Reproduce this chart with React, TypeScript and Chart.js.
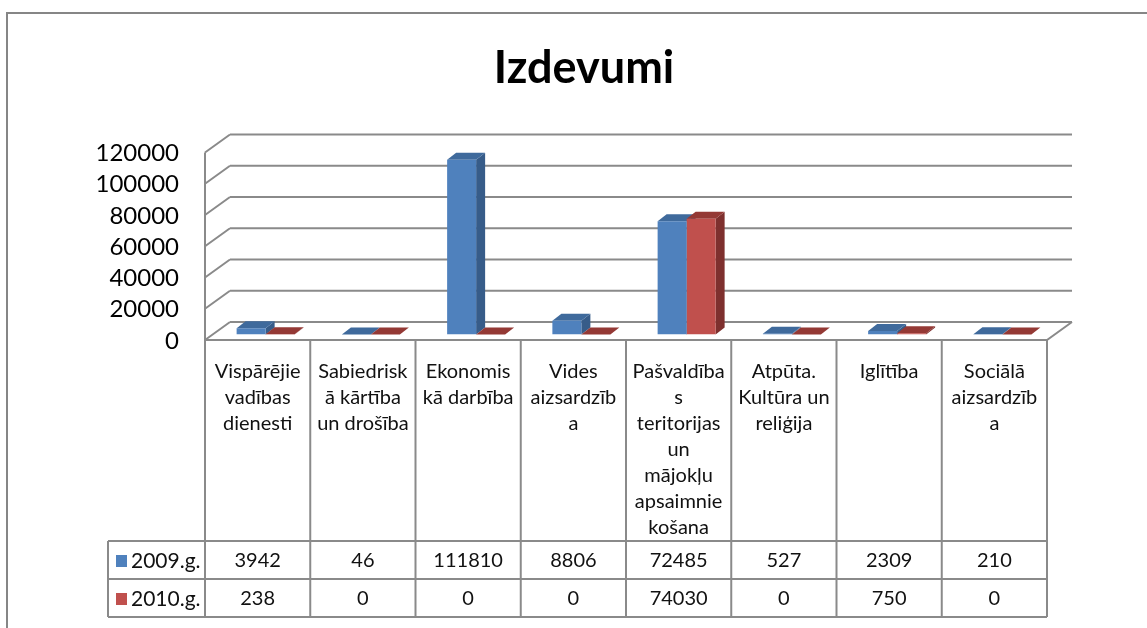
import React, { useEffect, useRef } from "react";
import { Chart, registerables } from "chart.js";

Chart.register(...registerables);

const chartTitle = "Izdevumi";
const categoryLines: string[][] = [
  ["Vispārējie", "vadības", "dienesti"],
  ["Sabiedrisk", "ā kārtība", "un drošība"],
  ["Ekonomis", "kā darbība"],
  ["Vides", "aizsardzīb", "a"],
  ["Pašvaldība", "s", "teritorijas", "un", "mājokļu", "apsaimnie", "košana"],
  ["Atpūta.", "Kultūra un", "reliģija"],
  ["Iglītība"],
  ["Sociālā", "aizsardzīb", "a"],
];
const seriesNames = ["2009.g.", "2010.g."];
const values2009 = [3942, 46, 111810, 8806, 72485, 527, 2309, 210];
const values2010 = [238, 0, 0, 0, 74030, 0, 750, 0];
const yTicks = [0, 20000, 40000, 60000, 80000, 100000, 120000];

const frontColors = ["#4F81BD", "#C0504D"];
const sideColors = ["#375C89", "#7E302E"];
const topColors = ["#3F6A9C", "#943935"];
const lineColor = "#8a8a8a";
const FONT = "Lato, 'Open Sans', sans-serif";

// projection offsets relative to the bar plane
const FRONT_DX = -8, FRONT_DY = 5.5;
const BACK_DX = 17, BACK_DY = -12.5;
const BAR_DX = 9, BAR_DY = -7;

const threeD = {
  id: "threeD",
  beforeDatasetsDraw(chart: any) {
    const ctx = chart.ctx;
    const ys = chart.scales.y;
    const area = chart.chartArea;
    const fl = area.left + FRONT_DX, fr = area.right + FRONT_DX;
    const bl = area.left + BACK_DX, br = area.right + BACK_DX;
    ctx.save();
    ctx.strokeStyle = lineColor;
    ctx.lineWidth = 2;
    ctx.lineCap = "butt";
    yTicks.forEach((v) => {
      const p = ys.getPixelForValue(v);
      const yb = p + BACK_DY, yf = p + FRONT_DY;
      ctx.beginPath();
      ctx.moveTo(bl, yb);
      ctx.lineTo(br, yb);
      ctx.moveTo(fl, yf);
      ctx.lineTo(bl, yb);
      ctx.stroke();
    });
    const p0 = ys.getPixelForValue(0);
    const pT = ys.getPixelForValue(yTicks[yTicks.length - 1]);
    ctx.beginPath();
    ctx.moveTo(fl, p0 + FRONT_DY);
    ctx.lineTo(fl, pT + FRONT_DY);
    ctx.moveTo(fl, p0 + FRONT_DY);
    ctx.lineTo(fr, p0 + FRONT_DY);
    ctx.lineTo(br, p0 + BACK_DY);
    ctx.stroke();

    // side & top faces of bars
    const metas = chart.data.datasets.map((_: any, i: number) => chart.getDatasetMeta(i));
    const n = chart.data.labels.length;
    for (let i = 0; i < n; i++) {
      metas.forEach((meta: any, d: number) => {
        const el = meta.data[i];
        const l = el.x - el.width / 2, r = el.x + el.width / 2;
        const top = el.y, base = el.base;
        ctx.fillStyle = sideColors[d];
        ctx.beginPath();
        ctx.moveTo(r, top);
        ctx.lineTo(r + BAR_DX, top + BAR_DY);
        ctx.lineTo(r + BAR_DX, base + BAR_DY);
        ctx.lineTo(r, base);
        ctx.closePath();
        ctx.fill();
        ctx.fillStyle = topColors[d];
        ctx.beginPath();
        ctx.moveTo(l, top);
        ctx.lineTo(r, top);
        ctx.lineTo(r + BAR_DX, top + BAR_DY);
        ctx.lineTo(l + BAR_DX, top + BAR_DY);
        ctx.closePath();
        ctx.fill();
      });
    }
    ctx.restore();
  },
  afterDraw(chart: any) {
    const ctx = chart.ctx;
    const xs = chart.scales.x;
    const ys = chart.scales.y;
    const area = chart.chartArea;
    const n = chart.data.labels.length;
    const colW = (area.right - area.left) / n;
    const fl = area.left + FRONT_DX, fr = area.right + FRONT_DX;
    const floorY = ys.getPixelForValue(0) + FRONT_DY;
    ctx.save();

    // outer frame
    ctx.strokeStyle = "#868686";
    ctx.lineWidth = 2;
    ctx.strokeRect(7, 13, 1200, 700);

    // title
    ctx.fillStyle = "#000";
    ctx.font = `bold 45px ${FONT}`;
    ctx.textAlign = "center";
    ctx.textBaseline = "middle";
    ctx.fillText(chartTitle, 584, 68);

    // y tick labels
    ctx.font = `24px ${FONT}`;
    ctx.textAlign = "right";
    yTicks.forEach((v) => {
      ctx.fillText(String(v), 179, ys.getPixelForValue(v) + FRONT_DY + 1);
    });

    // data table
    const row1 = 541, row2 = 579, row3 = 617;
    const legendLeft = 108;
    ctx.strokeStyle = lineColor;
    ctx.lineWidth = 2;
    ctx.beginPath();
    for (let i = 0; i <= n; i++) {
      const x = fl + i * colW;
      ctx.moveTo(x, floorY);
      ctx.lineTo(x, row3);
    }
    [row1, row2, row3].forEach((y) => {
      ctx.moveTo(legendLeft, y);
      ctx.lineTo(fr, y);
    });
    ctx.moveTo(legendLeft, row1);
    ctx.lineTo(legendLeft, row3);
    ctx.stroke();

    ctx.fillStyle = "#111";
    ctx.textAlign = "center";
    ctx.font = `20px ${FONT}`;
    categoryLines.forEach((lines, i) => {
      const cx = xs.getPixelForValue(i) + FRONT_DX;
      lines.forEach((t, k) => ctx.fillText(t, cx, 372 + k * 26));
    });
    const series = [values2009, values2010];
    const rowMid = [(row1 + row2) / 2 + 1, (row2 + row3) / 2 + 1];
    ctx.font = `20px ${FONT}`;
    series.forEach((vals, s) => {
      vals.forEach((v, i) => {
        const cx = xs.getPixelForValue(i) + FRONT_DX;
        ctx.fillText(String(v), cx, rowMid[s]);
      });
    });
    // legend keys
    ctx.textAlign = "left";
    ctx.font = `21px ${FONT}`;
    seriesNames.forEach((name, s) => {
      ctx.fillStyle = frontColors[s];
      ctx.fillRect(116, rowMid[s] - 6, 11, 12);
      ctx.fillStyle = "#111";
      ctx.fillText(name, 131, rowMid[s]);
    });
    ctx.restore();
  },
};

export default function App() {
  const ref = useRef<HTMLCanvasElement | null>(null);
  useEffect(() => {
    if (!ref.current) return;
    const chart = new Chart(ref.current, {
      type: "bar",
      data: {
        labels: categoryLines.map((l) => l.join(" ")),
        datasets: [
          { label: seriesNames[0], data: values2009, backgroundColor: frontColors[0], borderWidth: 0 },
          { label: seriesNames[1], data: values2010, backgroundColor: frontColors[1], borderWidth: 0 },
        ],
      },
      options: {
        responsive: false,
        animation: false,
        devicePixelRatio: 1,
        layout: { padding: { left: 213, right: 92, top: 147, bottom: 293.5 } },
        datasets: { bar: { categoryPercentage: 0.551, barPercentage: 1 } },
        scales: {
          x: { display: false, offset: true },
          y: { display: false, min: 0, max: 120000 },
        },
        plugins: {
          legend: { display: false },
          title: { display: false },
          tooltip: { enabled: false },
        },
      },
      plugins: [threeD],
    });
    return () => chart.destroy();
  }, []);
  return (
    <div style={{ position: "fixed", left: 0, top: 0, width: 1147, height: 628, background: "#fff" }}>
      <canvas ref={ref} width={1147} height={628} />
    </div>
  );
}
